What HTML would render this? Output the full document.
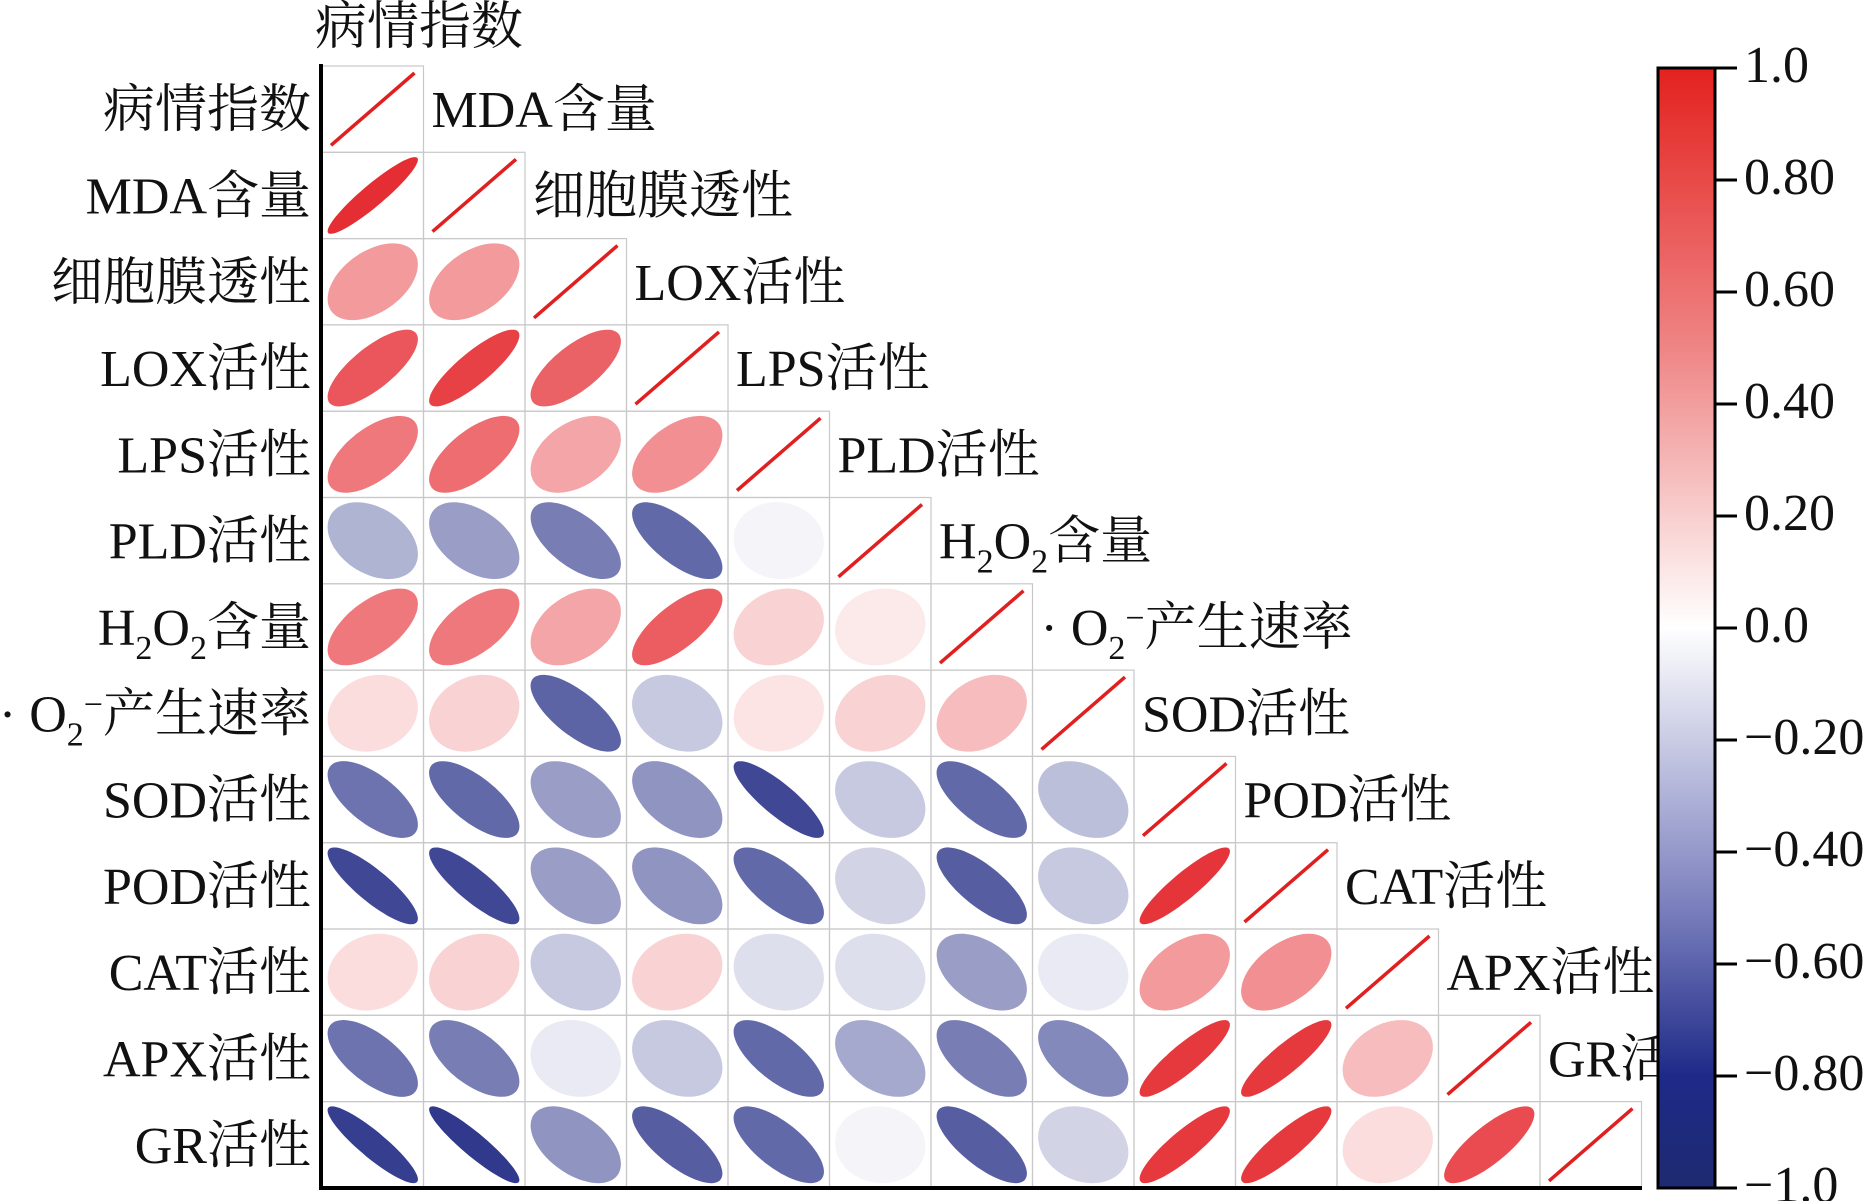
<!DOCTYPE html>
<html><head><meta charset="utf-8">
<style>
html,body{margin:0;padding:0;background:#fff;width:1867px;height:1201px;overflow:hidden}
svg text{font-family:"Liberation Serif","Noto Serif CJK SC",serif;font-size:52px;fill:#111}
</style></head>
<body>
<svg id="s" width="1867" height="1201" xmlns="http://www.w3.org/2000/svg">
<defs><linearGradient id="cb" x1="0" y1="0" x2="0" y2="1">
<stop offset="0" stop-color="#e3221f"/><stop offset="0.25" stop-color="#ef8585"/>
<stop offset="0.5" stop-color="#ffffff"/><stop offset="0.75" stop-color="#7a7fbd"/>
<stop offset="0.9" stop-color="#1e2a88"/><stop offset="1" stop-color="#1e2a70"/></linearGradient>
<clipPath id="cl"><rect x="0" y="0" width="1657" height="1201"/></clipPath></defs>
</svg>
<script>
const S=document.getElementById('s');const NS='http://www.w3.org/2000/svg';
function el(t,a,txt){const e=document.createElementNS(NS,t);for(const k in a)e.setAttribute(k,a[k]);if(txt!=null)e.innerHTML=txt;S.appendChild(e);return e;}
const X0=322,Y0=66,W=101.5,H=86.3;
const R=[[],[0.93],[0.45,0.45],[0.75,0.85,0.7],[0.6,0.65,0.4,0.5],
[-0.35,-0.45,-0.6,-0.7,-0.05],[0.6,0.6,0.4,0.72,0.2,0.1],
[0.15,0.2,-0.72,-0.25,0.12,0.2,0.3],
[-0.65,-0.7,-0.45,-0.5,-0.85,-0.25,-0.7,-0.3],
[-0.85,-0.85,-0.45,-0.5,-0.7,-0.2,-0.75,-0.25,0.9],
[0.15,0.2,-0.25,0.2,-0.15,-0.15,-0.45,-0.1,0.45,0.5],
[-0.65,-0.6,-0.1,-0.25,-0.7,-0.4,-0.6,-0.55,0.88,0.88,0.3],
[-0.9,-0.92,-0.5,-0.75,-0.7,-0.05,-0.75,-0.2,0.88,0.88,0.15,0.8]];
function col(r){let e=r>0?[227,30,36]:[30,40,130];let a=Math.abs(r);
return 'rgb('+e.map(v=>Math.round(255+(v-255)*a)).join(',')+')';}
for(let i=0;i<13;i++){for(let j=0;j<=i;j++){const x=X0+j*W,y=Y0+i*H;
el('rect',{x:x,y:y,width:W,height:H,fill:'none',stroke:'#c8c8c8','stroke-width':1.2});
if(i==j){el('line',{x1:x+9,y1:y+H-7,x2:x+W-9,y2:y+7,stroke:'#e02020','stroke-width':3.5});}
else{const r=R[i][j],d=Math.acos(r),cx=x+W/2,cy=y+H/2,rx=0.445*W,ry=0.445*H;let p='';
for(let k=0;k<=72;k++){const t=k/72*2*Math.PI;p+=(k?'L':'M')+(cx+Math.cos(t+d/2)*rx).toFixed(1)+' '+(cy-Math.cos(t-d/2)*ry).toFixed(1);}
el('path',{d:p+'Z',fill:col(r)});}}}
const L=['病情指数','MDA含量','细胞膜透性','LOX活性','LPS活性','PLD活性',
'H<tspan dy="14" font-size="34">2</tspan><tspan dy="-14">O</tspan><tspan dy="14" font-size="34">2</tspan><tspan dy="-14">含量</tspan>',
'· O<tspan dy="14" font-size="34">2</tspan><tspan dy="-30" font-size="34">−</tspan><tspan dy="16">产生速率</tspan>',
'SOD活性','POD活性','CAT活性','APX活性','GR活性'];
for(let i=0;i<13;i++){const cy=Y0+i*H+H/2+18;
el('text',{x:311,y:cy,'text-anchor':'end'},L[i]);
if(i<12)el('text',{x:X0+(i+1)*W+8,y:cy,'clip-path':'url(#cl)'},L[i+1]);}
el('text',{x:315,y:44},'病情指数');
el('line',{x1:321,y1:64,x2:321,y2:1190,stroke:'#000','stroke-width':4});
el('line',{x1:319,y1:1188,x2:1642,y2:1188,stroke:'#000','stroke-width':4});
el('rect',{x:1658,y:68,width:57,height:1120,fill:'url(#cb)',stroke:'#000','stroke-width':3});
const T=['1.0','0.80','0.60','0.40','0.20','0.0','−0.20','−0.40','−0.60','−0.80','−1.0'];
for(let k=0;k<11;k++){const y=68+k*112;el('line',{x1:1715,y1:y,x2:1737,y2:y,stroke:'#000','stroke-width':3});
el('text',{x:1744,y:y+14},T[k]);}
</script>
</body></html>
